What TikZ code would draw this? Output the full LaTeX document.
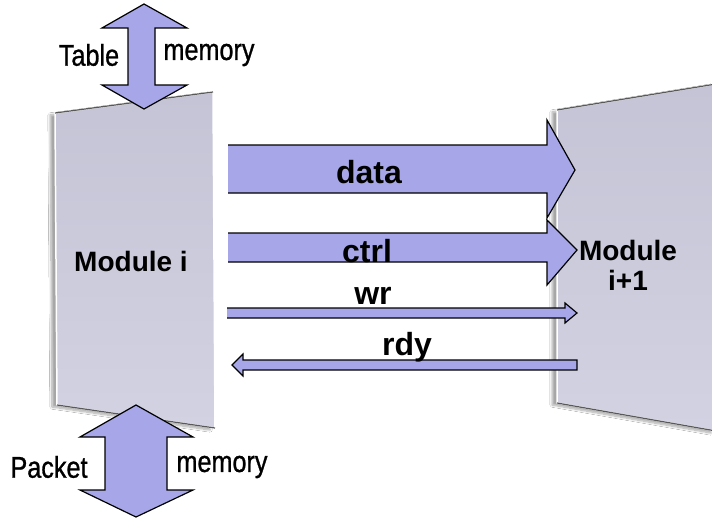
\documentclass[tikz,border=0pt]{standalone}
\usepackage{fontspec}
\setmainfont{Liberation Sans}
\newfontfamily\memfont{Liberation Sans}[FakeStretch=0.84,FakeBold=0.9]
\usetikzlibrary{shadows.blur}
\definecolor{arrowfill}{HTML}{A6A6E8}
\definecolor{panelA}{HTML}{C4C4D6}
\definecolor{panelB}{HTML}{D2D2E2}
\begin{document}
\begin{tikzpicture}[x=1pt,y=-1pt,
  blockfill/.style={fill=arrowfill,draw=none},
  blockline/.style={draw=black,line width=1.2pt,line join=miter},
  panelshape/.style={top color=panelA,bottom color=panelB,draw=white,line width=1.5pt,
    blur shadow={shadow xshift=-5pt,shadow yshift=-2pt,shadow blur steps=10,shadow opacity=35}},
  panelrim/.style={draw=black!65,line width=1.2pt},
  memlabel/.style={font=\memfont\fontsize{30}{30}\selectfont,inner sep=1pt,fill=white},
  sig/.style={font=\bfseries\fontsize{32}{32}\selectfont,inner sep=0pt},
  modlabel/.style={font=\bfseries\fontsize{28}{30}\selectfont,inner sep=0pt,align=center}
]
\useasboundingbox (0,0) rectangle (712,519);
\fill[white] (0,0) rectangle (712,519);

% Module i panel
\path[panelshape] (55,113) -- (213,92) -- (215,428) -- (57,405) -- cycle;
\draw[panelrim] (55,113) -- (213,92);
\draw[panelrim] (57,405) -- (215,428);
\node[modlabel] (modi) at (131,261) {Module i};

% Module i+1 panel
\path[panelshape] (557,110) -- (716,84) -- (716,431) -- (557,403) -- cycle;
\draw[panelrim] (557,110) -- (716,84);
\draw[panelrim] (557,403) -- (716,431);
\node[modlabel] (modn) at (628,265) {Module\\i+1};

% Table memory arrow
\draw[fill=arrowfill,blockline] (144,4) -- (187,28) -- (155,28) -- (155,85) -- (187,85) -- (144,109)
  -- (102,85) -- (128,85) -- (128,28) -- (102,28) -- cycle;
\node[memlabel] (tbl) at (89,55) {Table};
\node[memlabel] (tmem) at (209,55) {memory};

% Packet memory arrow
\draw[fill=arrowfill,blockline] (136,405) -- (193,437) -- (167,437) -- (167,490) -- (193,490) -- (136,517)
  -- (80,490) -- (105,490) -- (105,437) -- (80,437) -- cycle;
\node[memlabel] (pkt) at (49,467) {Packet};
\node[memlabel] (pmem) at (222,467) {memory};

% data arrow
\path[blockfill] (228,145) -- (547,145) -- (547,120) -- (575,170) -- (547,218) -- (547,193) -- (228,193) -- cycle;
\draw[blockline] (228,145) -- (547,145) -- (547,120) -- (575,170) -- (547,218) -- (547,193) -- (228,193);
\node[sig] (data) at (369,172) {data};

% ctrl arrow
\path[blockfill] (228,233) -- (547,233) -- (547,220) -- (577,250) -- (547,285) -- (547,262) -- (228,262) -- cycle;
\draw[blockline] (228,233) -- (547,233) -- (547,220) -- (577,250) -- (547,285) -- (547,262) -- (228,262);
\node[sig] (ctrl) at (367,251) {ctrl};

% wr arrow
\path[blockfill] (227,308) -- (565,308) -- (565,303) -- (577,313) -- (565,323) -- (565,318) -- (227,318) -- cycle;
\draw[blockline] (227,308) -- (565,308) -- (565,303) -- (577,313) -- (565,323) -- (565,318) -- (227,318);
\node[sig] (wr) at (373,296) {wr};

% rdy arrow
\draw[fill=arrowfill,blockline] (577,360) -- (243,360) -- (243,354) -- (232,365) -- (243,376) -- (243,370) -- (577,370) -- cycle;
\node[sig] (rdy) at (407,347) {rdy};
\end{tikzpicture}
\end{document}
